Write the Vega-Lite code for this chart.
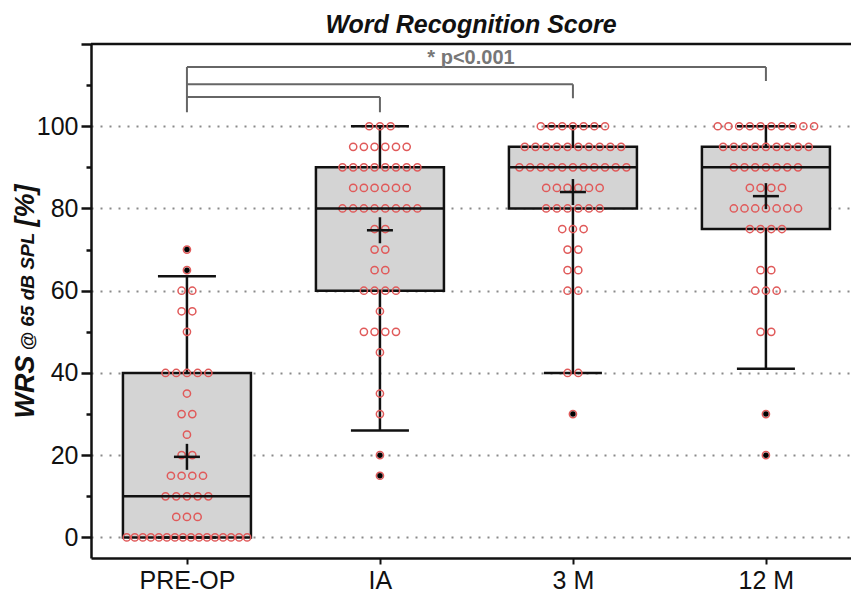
{
  "$schema": "https://vega.github.io/schema/vega-lite/v6.json",
  "width": 760,
  "height": 514,
  "autosize": {"type": "none"},
  "padding": {"left": 91, "top": 44, "right": 0, "bottom": 40},
  "background": "white",
  "config": {
    "view": {"stroke": null},
    "font": "Liberation Sans",
    "axis": {"labelFont": "Liberation Sans", "titleFont": "Liberation Sans"},
    "tick": {"opacity": 1}
  },
  "title": {
    "text": "Word Recognition Score",
    "subtitle": "*  p<0.001",
    "frame": "group",
    "anchor": "middle",
    "font": "Liberation Sans",
    "fontSize": 25,
    "fontStyle": "italic",
    "fontWeight": "bold",
    "color": "#111111",
    "subtitleFont": "Liberation Sans",
    "subtitleFontSize": 20,
    "subtitleFontWeight": "bold",
    "subtitleColor": "#777777",
    "subtitlePadding": 10,
    "offset": -25
  },
  "datasets": {
    "box": [
      {"g": "PRE-OP", "lo": 0, "q1": 0, "med": 10, "q3": 40, "hi": 63.5, "mean": 19.6},
      {"g": "IA", "lo": 26, "q1": 60, "med": 80, "q3": 90, "hi": 100, "mean": 74.7},
      {"g": "3 M", "lo": 40, "q1": 80, "med": 90, "q3": 95, "hi": 100, "mean": 84},
      {"g": "12 M", "lo": 41, "q1": 75, "med": 90, "q3": 95, "hi": 100, "mean": 83}
    ],
    "hbr": [
      {"a": "PRE-OP", "b": "12 M", "y": 114.4},
      {"a": "PRE-OP", "b": "3 M", "y": 110.2},
      {"a": "PRE-OP", "b": "IA", "y": 107.1}
    ],
    "vbr": [
      {"a": "PRE-OP", "y": 114.4, "y2": 103.4},
      {"a": "12 M", "y": 114.4, "y2": 111.0},
      {"a": "3 M", "y": 110.2, "y2": 106.8},
      {"a": "IA", "y": 107.1, "y2": 103.4}
    ],
    "pts": [
      {"g":"PRE-OP","v":0},{"g":"PRE-OP","v":0},{"g":"PRE-OP","v":0},{"g":"PRE-OP","v":0},
      {"g":"PRE-OP","v":0},{"g":"PRE-OP","v":0},{"g":"PRE-OP","v":0},{"g":"PRE-OP","v":0},
      {"g":"PRE-OP","v":0},{"g":"PRE-OP","v":0},{"g":"PRE-OP","v":0},{"g":"PRE-OP","v":0},
      {"g":"PRE-OP","v":0},{"g":"PRE-OP","v":0},{"g":"PRE-OP","v":0},{"g":"PRE-OP","v":0},
      {"g":"PRE-OP","v":5},{"g":"PRE-OP","v":5},{"g":"PRE-OP","v":5},
      {"g":"PRE-OP","v":10},{"g":"PRE-OP","v":10},{"g":"PRE-OP","v":10},{"g":"PRE-OP","v":10},{"g":"PRE-OP","v":10},
      {"g":"PRE-OP","v":15},{"g":"PRE-OP","v":15},{"g":"PRE-OP","v":15},{"g":"PRE-OP","v":15},
      {"g":"PRE-OP","v":20},{"g":"PRE-OP","v":20},
      {"g":"PRE-OP","v":25},
      {"g":"PRE-OP","v":30},{"g":"PRE-OP","v":30},
      {"g":"PRE-OP","v":35},
      {"g":"PRE-OP","v":40},{"g":"PRE-OP","v":40},{"g":"PRE-OP","v":40},{"g":"PRE-OP","v":40},{"g":"PRE-OP","v":40},
      {"g":"PRE-OP","v":50},
      {"g":"PRE-OP","v":55},{"g":"PRE-OP","v":55},
      {"g":"PRE-OP","v":60},{"g":"PRE-OP","v":60},
      {"g":"PRE-OP","v":65},
      {"g":"PRE-OP","v":70},
      {"g":"IA","v":15},{"g":"IA","v":20},{"g":"IA","v":30},{"g":"IA","v":35},{"g":"IA","v":45},
      {"g":"IA","v":50},{"g":"IA","v":50},{"g":"IA","v":50},{"g":"IA","v":50},
      {"g":"IA","v":55},
      {"g":"IA","v":60},{"g":"IA","v":60},{"g":"IA","v":60},{"g":"IA","v":60},
      {"g":"IA","v":65},{"g":"IA","v":65},
      {"g":"IA","v":70},{"g":"IA","v":70},
      {"g":"IA","v":75},{"g":"IA","v":75},
      {"g":"IA","v":80},{"g":"IA","v":80},{"g":"IA","v":80},{"g":"IA","v":80},{"g":"IA","v":80},{"g":"IA","v":80},{"g":"IA","v":80},{"g":"IA","v":80},
      {"g":"IA","v":85},{"g":"IA","v":85},{"g":"IA","v":85},{"g":"IA","v":85},{"g":"IA","v":85},{"g":"IA","v":85},
      {"g":"IA","v":90},{"g":"IA","v":90},{"g":"IA","v":90},{"g":"IA","v":90},{"g":"IA","v":90},{"g":"IA","v":90},{"g":"IA","v":90},{"g":"IA","v":90},
      {"g":"IA","v":95},{"g":"IA","v":95},{"g":"IA","v":95},{"g":"IA","v":95},{"g":"IA","v":95},{"g":"IA","v":95},
      {"g":"IA","v":100},{"g":"IA","v":100},{"g":"IA","v":100},
      {"g":"3 M","v":30},
      {"g":"3 M","v":40},{"g":"3 M","v":40},
      {"g":"3 M","v":60},{"g":"3 M","v":60},
      {"g":"3 M","v":65},{"g":"3 M","v":65},
      {"g":"3 M","v":70},{"g":"3 M","v":70},
      {"g":"3 M","v":75},{"g":"3 M","v":75},{"g":"3 M","v":75},
      {"g":"3 M","v":80},{"g":"3 M","v":80},{"g":"3 M","v":80},{"g":"3 M","v":80},{"g":"3 M","v":80},{"g":"3 M","v":80},
      {"g":"3 M","v":85},{"g":"3 M","v":85},{"g":"3 M","v":85},{"g":"3 M","v":85},{"g":"3 M","v":85},{"g":"3 M","v":85},
      {"g":"3 M","v":90},{"g":"3 M","v":90},{"g":"3 M","v":90},{"g":"3 M","v":90},{"g":"3 M","v":90},{"g":"3 M","v":90},
      {"g":"3 M","v":90},{"g":"3 M","v":90},{"g":"3 M","v":90},{"g":"3 M","v":90},{"g":"3 M","v":90},
      {"g":"3 M","v":95},{"g":"3 M","v":95},{"g":"3 M","v":95},{"g":"3 M","v":95},{"g":"3 M","v":95},
      {"g":"3 M","v":95},{"g":"3 M","v":95},{"g":"3 M","v":95},{"g":"3 M","v":95},{"g":"3 M","v":95},
      {"g":"3 M","v":100},{"g":"3 M","v":100},{"g":"3 M","v":100},{"g":"3 M","v":100},{"g":"3 M","v":100},{"g":"3 M","v":100},{"g":"3 M","v":100},
      {"g":"12 M","v":20},{"g":"12 M","v":30},
      {"g":"12 M","v":50},{"g":"12 M","v":50},
      {"g":"12 M","v":60},{"g":"12 M","v":60},{"g":"12 M","v":60},
      {"g":"12 M","v":65},{"g":"12 M","v":65},
      {"g":"12 M","v":75},{"g":"12 M","v":75},{"g":"12 M","v":75},{"g":"12 M","v":75},
      {"g":"12 M","v":80},{"g":"12 M","v":80},{"g":"12 M","v":80},{"g":"12 M","v":80},{"g":"12 M","v":80},{"g":"12 M","v":80},{"g":"12 M","v":80},
      {"g":"12 M","v":85},{"g":"12 M","v":85},{"g":"12 M","v":85},{"g":"12 M","v":85},
      {"g":"12 M","v":90},{"g":"12 M","v":90},{"g":"12 M","v":90},{"g":"12 M","v":90},{"g":"12 M","v":90},{"g":"12 M","v":90},{"g":"12 M","v":90},
      {"g":"12 M","v":95},{"g":"12 M","v":95},{"g":"12 M","v":95},{"g":"12 M","v":95},{"g":"12 M","v":95},
      {"g":"12 M","v":95},{"g":"12 M","v":95},{"g":"12 M","v":95},{"g":"12 M","v":95},
      {"g":"12 M","v":100},{"g":"12 M","v":100},{"g":"12 M","v":100},{"g":"12 M","v":100},{"g":"12 M","v":100},
      {"g":"12 M","v":100},{"g":"12 M","v":100},{"g":"12 M","v":100},{"g":"12 M","v":100},{"g":"12 M","v":100}
    ]
  },
  "resolve": {"axis": {"y": "independent"}},
  "layer": [
    {
      "data": {"name": "box"},
      "mark": {"type": "rule", "color": "#111111", "strokeWidth": 2.5},
      "encoding": {
        "x": {
          "field": "g", "type": "nominal", "title": null,
          "scale": {"type": "point", "domain": ["PRE-OP", "IA", "3 M", "12 M"], "padding": 0.469, "align": 0.53},
          "axis": {
            "labelAngle": 0, "labelFontSize": 25, "labelColor": "#111111", "labelPadding": 4,
            "domainColor": "#111111", "domainWidth": 2.5, "tickColor": "#111111", "tickWidth": 2, "tickSize": 6, "grid": false
          }
        },
        "y": {
          "field": "lo", "type": "quantitative",
          "scale": {"domain": [-5, 120], "nice": false, "zero": false},
          "axis": {
            "orient": "left",
            "values": [0, 10, 20, 30, 40, 50, 60, 70, 80, 90, 100, 110, 120],
            "labelExpr": "datum.value % 20 === 0 && datum.value <= 100 ? datum.label : ''",
            "labelFontSize": 25, "labelColor": "#111111", "labelPadding": 3,
            "domainColor": "#111111", "domainWidth": 2.5,
            "tickColor": "#111111", "tickWidth": 2.5,
            "tickSize": {"condition": {"test": "datum.value % 20 === 0", "value": 10}, "value": 5},
            "grid": true, "gridColor": "#8a8a8a", "gridWidth": 2, "gridDash": [2, 7],
            "gridOpacity": {"condition": {"test": "datum.value % 20 === 0 && datum.value <= 100", "value": 1}, "value": 0},
            "title": "WRS", "titleFontSize": 27, "titleFontStyle": "italic", "titleFontWeight": "bold", "titleColor": "#111111",
            "titleAngle": -90, "titleAlign": "left", "titleBaseline": "alphabetic", "titleX": -58, "titleY": 374
          }
        },
        "y2": {"field": "hi"}
      }
    },
    {
      "data": {"name": "box"},
      "mark": {"type": "bar", "fill": "#d4d4d4", "stroke": "#111111", "strokeWidth": 2.5, "width": 128},
      "encoding": {
        "x": {"field": "g", "type": "nominal", "title": null},
        "y": {"field": "q1", "type": "quantitative", "scale": {"domain": [-5, 120], "nice": false, "zero": false}, "axis": null},
        "y2": {"field": "q3"}
      }
    },
    {
      "data": {"name": "box"},
      "mark": {"type": "tick", "orient": "horizontal", "color": "#111111", "size": 58, "thickness": 2.5, "opacity": 1},
      "encoding": {
        "x": {"field": "g", "type": "nominal", "title": null},
        "y": {"field": "hi", "type": "quantitative", "scale": {"domain": [-5, 120], "nice": false, "zero": false}, "axis": null}
      }
    },
    {
      "data": {"name": "box"},
      "mark": {"type": "tick", "orient": "horizontal", "color": "#111111", "size": 58, "thickness": 2.5, "opacity": 1},
      "encoding": {
        "x": {"field": "g", "type": "nominal", "title": null},
        "y": {"field": "lo", "type": "quantitative", "scale": {"domain": [-5, 120], "nice": false, "zero": false}, "axis": null}
      }
    },
    {
      "data": {"name": "pts"},
      "transform": [
        {"window": [{"op": "row_number", "as": "r"}, {"op": "count", "as": "n"}], "groupby": ["g", "v"], "frame": [null, null]},
        {"calculate": "(datum.r - (datum.n + 1) / 2) * (datum.n > 12 ? 0.75 : 1)", "as": "off"}
      ],
      "mark": {"type": "point", "shape": "circle", "filled": false, "stroke": "#e05a5a", "strokeWidth": 1.5, "size": 52, "opacity": 1},
      "encoding": {
        "x": {"field": "g", "type": "nominal", "title": null},
        "xOffset": {"field": "off", "type": "quantitative", "scale": {"domain": [-10, 10], "range": [-107, 107]}},
        "y": {"field": "v", "type": "quantitative", "scale": {"domain": [-5, 120], "nice": false, "zero": false}, "axis": null}
      }
    },
    {
      "data": {"name": "box"},
      "mark": {"type": "tick", "orient": "horizontal", "color": "#111111", "size": 128, "thickness": 2.5, "opacity": 1},
      "encoding": {
        "x": {"field": "g", "type": "nominal", "title": null},
        "y": {"field": "med", "type": "quantitative", "scale": {"domain": [-5, 120], "nice": false, "zero": false}, "axis": null}
      }
    },
    {
      "data": {"name": "box"},
      "mark": {"type": "tick", "orient": "horizontal", "color": "#111111", "size": 26, "thickness": 2.5, "opacity": 1},
      "encoding": {
        "x": {"field": "g", "type": "nominal", "title": null},
        "y": {"field": "mean", "type": "quantitative", "scale": {"domain": [-5, 120], "nice": false, "zero": false}, "axis": null}
      }
    },
    {
      "data": {"name": "box"},
      "mark": {"type": "tick", "orient": "vertical", "color": "#111111", "size": 26, "thickness": 2.5, "opacity": 1},
      "encoding": {
        "x": {"field": "g", "type": "nominal", "title": null},
        "y": {"field": "mean", "type": "quantitative", "scale": {"domain": [-5, 120], "nice": false, "zero": false}, "axis": null}
      }
    },
    {
      "data": {"name": "pts"},
      "transform": [
        {"lookup": "g", "from": {"data": {"name": "box"}, "key": "g", "fields": ["lo", "hi"]}},
        {"filter": "datum.v > datum.hi || datum.v < datum.lo"}
      ],
      "mark": {"type": "point", "shape": "circle", "filled": true, "color": "#000000", "size": 30, "opacity": 1},
      "encoding": {
        "x": {"field": "g", "type": "nominal", "title": null},
        "y": {"field": "v", "type": "quantitative", "scale": {"domain": [-5, 120], "nice": false, "zero": false}, "axis": null}
      }
    },
    {
      "data": {"name": "hbr"},
      "mark": {"type": "rule", "color": "#666666", "strokeWidth": 2},
      "encoding": {
        "x": {"field": "a", "type": "nominal", "title": null},
        "x2": {"field": "b"},
        "y": {"field": "y", "type": "quantitative", "scale": {"domain": [-5, 120], "nice": false, "zero": false}, "axis": null}
      }
    },
    {
      "data": {"name": "vbr"},
      "mark": {"type": "rule", "color": "#666666", "strokeWidth": 2},
      "encoding": {
        "x": {"field": "a", "type": "nominal", "title": null},
        "y": {
          "field": "y", "type": "quantitative", "scale": {"domain": [-5, 120], "nice": false, "zero": false},
          "axis": {
            "orient": "left", "domain": false, "ticks": false, "labels": false, "grid": false,
            "title": "@ 65 dB SPL", "titleFontSize": 19, "titleFontStyle": "italic", "titleFontWeight": "bold", "titleColor": "#111111",
            "titleAngle": -90, "titleAlign": "left", "titleBaseline": "alphabetic", "titleX": -58, "titleY": 306
          }
        },
        "y2": {"field": "y2"}
      }
    },
    {
      "data": {"values": [{"t": 120}]},
      "mark": {"type": "rule", "color": "#111111", "strokeWidth": 2.5},
      "encoding": {
        "y": {
          "field": "t", "type": "quantitative", "scale": {"domain": [-5, 120], "nice": false, "zero": false},
          "axis": {
            "orient": "left", "domain": false, "ticks": false, "labels": false, "grid": false,
            "title": "[%]", "titleFontSize": 27, "titleFontStyle": "italic", "titleFontWeight": "bold", "titleColor": "#111111",
            "titleAngle": -90, "titleAlign": "left", "titleBaseline": "alphabetic", "titleX": -58, "titleY": 182
          }
        }
      }
    }
  ]
}
